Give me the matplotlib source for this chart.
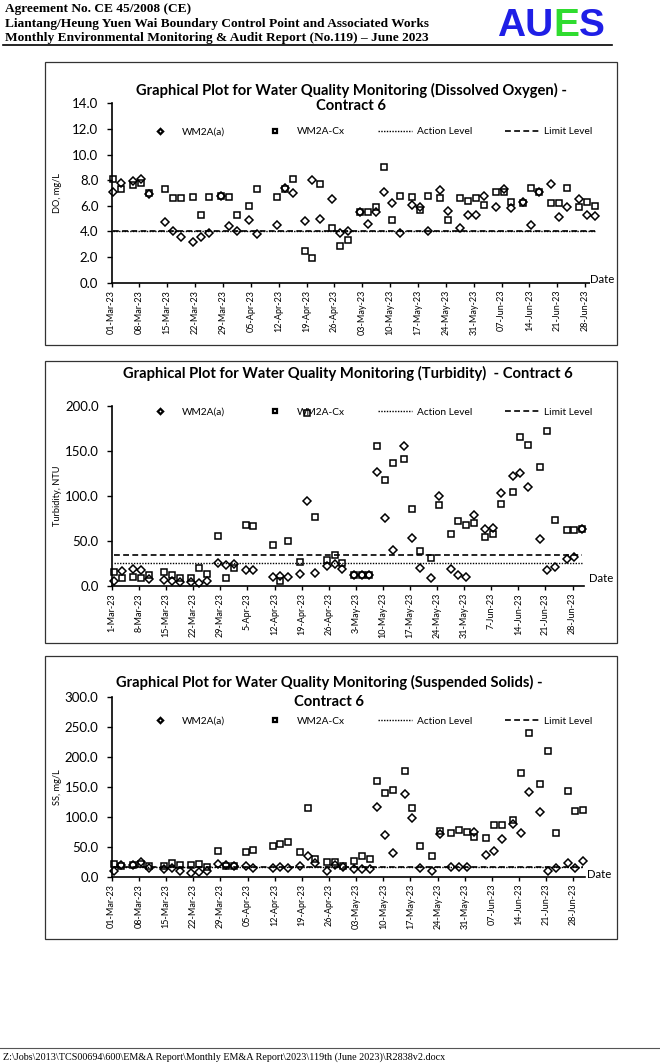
import matplotlib
matplotlib.use("Agg")
import matplotlib.pyplot as plt
import numpy as np
import pandas as pd
from matplotlib.patches import Rectangle
from matplotlib.lines import Line2D

plt.rcParams['font.family'] = ['Lato', 'DejaVu Sans']

W, H = 660, 1064

# sampling dates (Mar - Jun 2023)
sample_dates = pd.to_datetime([
    "2023-03-01", "2023-03-03", "2023-03-06", "2023-03-08", "2023-03-10", "2023-03-14",
    "2023-03-16", "2023-03-18", "2023-03-21", "2023-03-23", "2023-03-25", "2023-03-28",
    "2023-03-30", "2023-04-01", "2023-04-04", "2023-04-06", "2023-04-11", "2023-04-13",
    "2023-04-15", "2023-04-18", "2023-04-20", "2023-04-22", "2023-04-25", "2023-04-27",
    "2023-04-29", "2023-05-02", "2023-05-04", "2023-05-06", "2023-05-08", "2023-05-10",
    "2023-05-12", "2023-05-15", "2023-05-17", "2023-05-19", "2023-05-22", "2023-05-24",
    "2023-05-27", "2023-05-29", "2023-05-31", "2023-06-02", "2023-06-05", "2023-06-07",
    "2023-06-09", "2023-06-12", "2023-06-14", "2023-06-16", "2023-06-19", "2023-06-21",
    "2023-06-23", "2023-06-26", "2023-06-28", "2023-06-30",
])

# Dissolved oxygen, mg/L
do_a = [7.1, 7.8, 7.9, 8.1, 6.9, 4.7, 4.0, 3.6, 3.2, 3.6, 3.9, 6.8, 4.4,
        4.0, 4.9, 3.8, 4.5, 7.4, 7.0, 4.8, 8.0, 5.0, 6.5, 3.9, 4.0,
        5.5, 4.6, 5.5, 7.1, 6.2, 3.9, 6.1, 5.9, 4.0, 7.2, 5.6, 4.3, 5.3, 5.3,
        6.8, 5.9, 7.3, 5.8, 6.3, 4.5, 7.1, 7.7, 5.1, 5.9, 6.5, 5.3, 5.2]
do_cx = [8.1, 7.3, 7.6, 7.8, 7.0, 7.3, 6.6, 6.6, 6.7, 5.3, 6.7, 6.8, 6.7,
         5.3, 6.0, 7.3, 6.7, 7.3, 8.1, 2.5, 1.9, 7.7, 4.3, 2.9, 3.3,
         5.5, 5.5, 5.9, 9.0, 4.9, 6.8, 6.7, 5.7, 6.8, 6.6, 4.9, 6.6, 6.4, 6.6,
         6.1, 7.1, 7.1, 6.3, 6.2, 7.4, 7.1, 6.2, 6.2, 7.4, 5.9, 6.3, 6.0]
do_action, do_limit = 4.0, 4.0

# Turbidity, NTU
tb_a = [5.9, 16.6, 18.5, 17.7, 7.4, 6.7, 5.9, 4.1, 4.1, 3.3, 5.2, 25.9, 23.3,
        24.0, 17.4, 17.7, 9.6, 11.1, 10.4, 13.7, 93.9, 14.0, 21.8, 24.8, 19.3,
        12.6, 12.6, 12.6, 126.1, 75.0, 39.9, 154.9, 53.2, 20.3, 8.5, 99.8, 18.5, 12.2, 10.4,
        78.4, 62.8, 64.0, 102.8, 121.6, 125.7, 109.8, 52.1, 17.7, 20.7, 30.3, 31.8, 63.6]
tb_cx = [15.9, 8.9, 10.0, 9.2, 12.2, 15.9, 11.8, 9.2, 8.5, 19.6, 12.9, 55.8, 8.9,
         19.6, 67.3, 66.9, 45.5, 5.9, 49.9, 26.2, 192.0, 76.9, 28.8, 34.4, 25.0,
         12.6, 12.6, 12.6, 154.9, 117.2, 136.8, 141.2, 85.0, 38.8, 30.7, 89.8, 58.0, 72.1, 68.0,
         69.9, 54.3, 58.0, 91.3, 104.3, 165.6, 156.0, 132.0, 172.3, 72.8, 61.7, 61.7, 62.8]
tb_action, tb_limit = 25.1, 34.4

# Suspended solids, mg/L
ss_a = [9.4, 20.0, 18.9, 23.9, 15.0, 12.8, 14.4, 10.0, 6.1, 7.2, 9.4, 20.6, 18.9,
        17.8, 17.8, 15.0, 14.4, 15.6, 14.4, 17.8, 35.0, 23.3, 10.0, 18.9, 15.6,
        12.2, 12.2, 12.8, 115.6, 69.4, 40.0, 137.2, 97.2, 14.4, 10.0, 70.6, 16.1, 16.1, 16.1,
        74.4, 36.1, 43.3, 63.3, 87.2, 72.8, 140.6, 107.8, 9.4, 14.4, 23.3, 14.4, 25.6]
ss_cx = [21.1, 17.8, 20.0, 20.6, 17.8, 17.8, 22.2, 19.4, 18.9, 20.6, 16.7, 43.3, 17.8,
         17.8, 41.7, 44.4, 51.7, 53.9, 57.2, 41.1, 114.4, 30.0, 25.0, 25.0, 17.8,
         26.7, 34.4, 30.0, 160.0, 140.3, 144.4, 176.1, 115.3, 52.0, 34.2, 76.4, 73.0, 77.8, 75.0,
         66.4, 64.4, 85.6, 86.1, 94.4, 173.0, 240.0, 155.0, 209.4, 72.8, 142.2, 109.4, 111.7]
ss_action, ss_limit = 15.4, 16.4

start = pd.Timestamp("2023-03-01")
x = (sample_dates - start).days.values + 0.5
week_ticks = pd.date_range(start, periods=18, freq="7D")


def fx(px):
    return px / W


def fy(py):
    return 1 - py / H


fig = plt.figure(figsize=(W / 100, H / 100), dpi=100)
fig.patch.set_facecolor("white")

# ---- page header / footer
serif = ["Liberation Serif", "DejaVu Serif"]
hdr = ["Agreement No. CE 45/2008 (CE)",
       "Liantang/Heung Yuen Wai Boundary Control Point and Associated Works",
       "Monthly Environmental Monitoring & Audit Report (No.119) \u2013 June 2023"]
for i, t in enumerate(hdr):
    fig.text(fx(5), fy(12 + 14.5 * i), t, family=serif, weight="bold", fontsize=9.6,
             va="baseline", ha="left")
fig.add_artist(Line2D([fx(3), fx(612)], [fy(45), fy(45)], color="black", lw=1.2))

r = fig.canvas.get_renderer()
xpos = 497
for part, col in [("AU", "#1f1fe6"), ("E", "#2fdc2f"), ("S", "#1f1fe6")]:
    t = fig.text(fx(xpos), fy(36), part, family=["Liberation Sans", "DejaVu Sans"],
                 weight="bold", fontsize=28, color=col, va="baseline", ha="left")
    xpos += t.get_window_extent(r).width

fig.add_artist(Line2D([0, 1], [fy(1048), fy(1048)], color="#555555", lw=0.8))
fig.text(fx(3), fy(1060), r"Z:\Jobs\2013\TCS00694\600\EM&A Report\Monthly EM&A Report\2023\119th (June 2023)\R2838v2.docx",
         family=serif, fontsize=7.3, va="baseline", ha="left")


def chart(frame, left, top, bottom, px_day, a_vals, cx_vals, action, limit,
          ymax, ystep, ylabel, tick_labels, titles, legend_y, date_pos, date_bg):
    fl, ft, fb, fr = frame
    fig.add_artist(Rectangle((fx(fl), fy(fb)), fx(fr) - fx(fl), fy(ft) - fy(fb),
                             fill=False, edgecolor="#333333", lw=0.9,
                             transform=fig.transFigure, zorder=5))
    ax = fig.add_axes([fx(left), fy(bottom), (122 * px_day) / W, (bottom - top) / H])
    ax.plot(x, a_vals, ls="none", marker="D", ms=4.5, mfc="none", mec="black",
            mew=1.1, label="WM2A(a)", clip_on=False)
    ax.plot(x, cx_vals, ls="none", marker="s", ms=4.7, mfc="none", mec="black",
            mew=1.1, label="WM2A-Cx", clip_on=False)
    ax.plot(x, [action] * len(x), ls=(0, (1, 1)), color="black", lw=1.0, label="Action Level")
    ax.plot(x, [limit] * len(x), ls=(0, (3.5, 2)), color="black", lw=1.2, label="Limit Level")
    ax.set_xlim(0, 122)
    ax.set_ylim(0, ymax)
    yt = np.arange(0, ymax + ystep / 2, ystep)
    ax.set_yticks(yt)
    ax.set_yticklabels([f"{v:.1f}" for v in yt], fontsize=9.5)
    ax.set_xticks((week_ticks - start).days.values)
    ax.set_xticklabels(tick_labels, rotation=90, fontsize=6.5)
    for s in ["top", "right"]:
        ax.spines[s].set_visible(False)
    for s in ["left", "bottom"]:
        ax.spines[s].set_linewidth(1.2)
    ax.tick_params(axis="y", length=3.5, width=1, pad=6)
    ax.tick_params(axis="x", length=3, width=1, pad=2)
    ax.patch.set_alpha(0)
    fig.text(fx(57), (fy(top) + fy(bottom)) / 2, ylabel, rotation=90, fontsize=6.7,
             ha="center", va="center")
    for tx, ty, tt in titles:
        fig.text(fx(tx), fy(ty), tt, fontsize=10.6, weight="bold", ha="center", va="baseline")
    leg = ax.legend(ncol=4, loc="center left", bbox_to_anchor=(fx(143), fy(legend_y)),
                    bbox_transform=fig.transFigure, frameon=False, fontsize=7.3,
                    handlelength=3.3, handletextpad=0.5, columnspacing=3.3,
                    borderpad=0, borderaxespad=0, markerscale=0.6)
    for h in leg.legend_handles[:2]:
        h.set_markeredgewidth(1.6)
    fig.text(fx(date_pos[0]), fy(date_pos[1]), "Date", fontsize=8.2, ha="left", va="center",
             bbox=dict(facecolor="white", edgecolor="none", pad=0.3) if date_bg else None)
    return ax


labels_a = [d.strftime("%d-%b-%y") for d in week_ticks]
labels_b = [f"{d.day}-{d:%b-%y}" for d in week_ticks]

chart((45, 62, 345, 617), 111.5, 103.3, 282.7, 3.98, do_a, do_cx, do_action, do_limit,
      14.0, 2.0, "DO, mg/L", labels_a,
      [(351, 94.5, "Graphical Plot for Water Quality Monitoring (Dissolved Oxygen) -"),
       (351, 109.5, "Contract 6")], 131.7, (590, 279.5), True)

chart((45, 361, 643, 617), 112, 405.7, 586, 3.87, tb_a, tb_cx, tb_action, tb_limit,
      200.0, 50.0, "Turbidity, NTU", labels_b,
      [(348, 377.5, "Graphical Plot for Water Quality Monitoring (Turbidity)  - Contract 6")],
      412.3, (589, 578), False)

chart((45, 656, 939, 617), 111.7, 696.7, 876.7, 3.88, ss_a, ss_cx, ss_action, ss_limit,
      300.0, 50.0, "SS, mg/L", labels_a,
      [(329, 686.5, "Graphical Plot for Water Quality Monitoring (Suspended Solids) -"),
       (329, 705.5, "Contract 6")], 721, (587, 875), True)

fig.savefig("out.png", dpi=100, facecolor="white")
